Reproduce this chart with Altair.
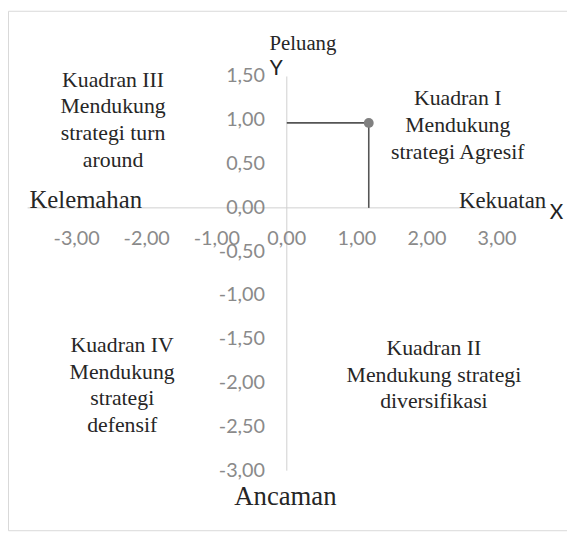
import altair as alt
import pandas as pd

# ---- data ----
X_TICKS = [-3, -2, -1, 0, 1, 2, 3]
Y_TICKS = [-3.0, -2.5, -2.0, -1.5, -1.0, -0.5, 0.0, 0.5, 1.0, 1.5]
X_AXIS_SPAN = [-3.7, 3.7]
Y_AXIS_SPAN = [-3.0, 1.5]
POINT_X = [1.17]
POINT_Y = [0.97]

X_DOMAIN = [-3.98, 4.0]
Y_DOMAIN = [-3.68, 2.25]

SERIF = "Liberation Serif"
SANS = "Lato"
TEXT_COLOR = "#262626"
TICK_COLOR = "#8a8a8a"


def fmt(v):
    return f"{v:.2f}".replace(".", ",")


xs = alt.Scale(domain=X_DOMAIN, nice=False, zero=False)
ys = alt.Scale(domain=Y_DOMAIN, nice=False, zero=False)

axis_df = pd.DataFrame({"x": [0], "y": [Y_AXIS_SPAN[0]], "y2": [Y_AXIS_SPAN[1]],
                        "xa": [X_AXIS_SPAN[0]], "xb": [X_AXIS_SPAN[1]], "y0": [0]})

y_line = alt.Chart(axis_df).mark_rule(color="#d0d0d0", strokeWidth=1).encode(
    x=alt.X("x:Q", scale=xs, axis=None),
    y=alt.Y("y:Q", scale=ys, axis=None),
    y2="y2:Q",
)
x_line = alt.Chart(axis_df).mark_rule(color="#d0d0d0", strokeWidth=1).encode(
    x=alt.X("xa:Q", scale=xs, axis=None),
    x2="xb:Q",
    y=alt.Y("y0:Q", scale=ys, axis=None),
)

xt_df = pd.DataFrame({"v": X_TICKS, "zero": [0.0] * len(X_TICKS),
                      "lab": [fmt(v) for v in X_TICKS]})
yt_df = pd.DataFrame({"v": Y_TICKS, "zero": [0.0] * len(Y_TICKS),
                      "lab": [fmt(v) for v in Y_TICKS]})

x_labels = alt.Chart(xt_df).mark_text(
    font=SANS, fontSize=20, color=TICK_COLOR, align="center", baseline="middle", dy=32
).encode(
    x=alt.X("v:Q", scale=xs, axis=None),
    y=alt.Y("zero:Q", scale=ys, axis=None),
    text="lab:N",
)
y_labels = alt.Chart(yt_df).mark_text(
    font=SANS, fontSize=20, color=TICK_COLOR, align="right", baseline="middle", dx=-22
).encode(
    x=alt.X("zero:Q", scale=xs, axis=None),
    y=alt.Y("v:Q", scale=ys, axis=None),
    text="lab:N",
)

pt_df = pd.DataFrame({"px": POINT_X, "py": POINT_Y, "zero": [0.0]})

h_conn = alt.Chart(pt_df).mark_rule(color="#555555", strokeWidth=1.6).encode(
    x=alt.X("zero:Q", scale=xs, axis=None), x2="px:Q",
    y=alt.Y("py:Q", scale=ys, axis=None),
)
v_conn = alt.Chart(pt_df).mark_rule(color="#555555", strokeWidth=1.6).encode(
    x=alt.X("px:Q", scale=xs, axis=None),
    y=alt.Y("zero:Q", scale=ys, axis=None), y2="py:Q",
)
point = alt.Chart(pt_df).mark_circle(color="#808080", opacity=1, size=100).encode(
    x=alt.X("px:Q", scale=xs, axis=None),
    y=alt.Y("py:Q", scale=ys, axis=None),
)


def note(text, x, y, size=22, font=SERIF, baseline="middle", color=TEXT_COLOR):
    return alt.Chart(axis_df).mark_text(
        font=font, fontSize=size, color=color, align="center", baseline=baseline,
        lineBreak="\n", lineHeight=27,
    ).encode(
        x=alt.X(datum=x, scale=xs, axis=None),
        y=alt.Y(datum=y, scale=ys, axis=None),
        text=alt.value(text),
    )


notes = [
    note("Kuadran III\nMendukung\nstrategi turn\naround", -2.48, 1.463),
    note("Kuadran I\nMendukung\nstrategi Agresif", 2.44, 1.249),
    note("Kuadran IV\nMendukung\nstrategi\ndefensif", -2.35, -1.565),
    note("Kuadran II\nMendukung strategi\ndiversifikasi", 2.10, -1.599),
    note("Kelemahan", -2.87, 0.0, size=25, baseline="alphabetic"),
    note("Kekuatan", 3.08, 0.0, size=23, baseline="alphabetic"),
    note("Ancaman", -0.02, -3.305, size=27),
    note("Peluang", 0.23, 1.87, size=21),
    note("X", 3.85, -0.06, size=21, font=SANS, color="#222222"),
    note("Y", -0.15, 1.59, size=21, font=SANS, color="#222222"),
]

chart = alt.layer(y_line, x_line, x_labels, y_labels, h_conn, v_conn, point, *notes).properties(
    width=565, height=525,
    autosize=alt.AutoSizeParams(type="none"),
    padding=0,
    background="white",
).configure_view(stroke="#d9d9d9", strokeWidth=1)

chart.save("out.html", embed_options={"renderer": "svg", "actions": False})
